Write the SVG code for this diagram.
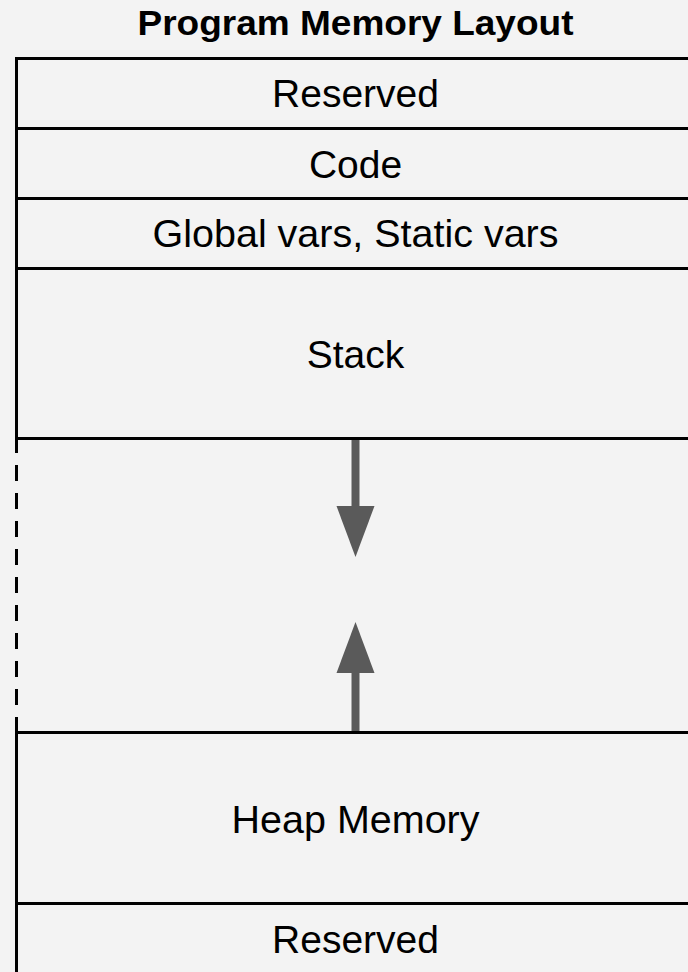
<svg xmlns="http://www.w3.org/2000/svg" width="688" height="972" viewBox="0 0 688 972">
  <style>
    .box { fill: #f3f3f3; stroke: #000000; stroke-width: 3; }
    .dash { fill: none; stroke: #000000; stroke-width: 3; stroke-dasharray: 16 12; }
    .lbl { font-family: "Liberation Sans", Arial, Helvetica, sans-serif; font-size: 39px; fill: #000000; text-anchor: middle; }
    .title { font-family: "Liberation Sans", Arial, Helvetica, sans-serif; font-size: 35px; font-weight: bold; fill: #000000; text-anchor: middle; }
    .shaft { stroke: #5a5a5a; stroke-width: 8; fill: none; }
    .head { fill: #5a5a5a; stroke: none; }
  </style>
  <rect x="0" y="0" width="688" height="972" fill="#f3f3f3"/>
  <g id="title">
    <text class="title" x="355.5" y="34.5" textLength="436" lengthAdjust="spacingAndGlyphs">Program Memory Layout</text>
  </g>
  <g id="free-space">
    <line class="dash" x1="16.5" y1="437" x2="16.5" y2="733"/>
  </g>
  <g id="reserved-top">
    <rect class="box" x="16.5" y="58.5" width="678" height="70"/>
    <text class="lbl" x="355.5" y="107">Reserved</text>
  </g>
  <g id="code">
    <rect class="box" x="16.5" y="128.5" width="678" height="70"/>
    <text class="lbl" x="355.5" y="177.5">Code</text>
  </g>
  <g id="globals">
    <rect class="box" x="16.5" y="198.5" width="678" height="70"/>
    <text class="lbl" x="355.5" y="247" textLength="406" lengthAdjust="spacingAndGlyphs">Global vars, Static vars</text>
  </g>
  <g id="stack">
    <rect class="box" x="16.5" y="268.5" width="678" height="170"/>
    <text class="lbl" x="355.5" y="367.5">Stack</text>
  </g>
  <g id="heap">
    <rect class="box" x="16.5" y="732.5" width="678" height="171"/>
    <text class="lbl" x="355.5" y="832.5" textLength="248" lengthAdjust="spacingAndGlyphs">Heap Memory</text>
  </g>
  <g id="reserved-bottom">
    <rect class="box" x="16.5" y="903.5" width="678" height="80"/>
    <text class="lbl" x="355.5" y="953">Reserved</text>
  </g>
  <g id="connectors">
    <line class="shaft" x1="355.5" y1="440" x2="355.5" y2="507"/>
    <polygon class="head" points="336.5,506 374.5,506 355.5,557"/>
    <line class="shaft" x1="355.5" y1="731" x2="355.5" y2="672"/>
    <polygon class="head" points="336.5,673 374.5,673 355.5,622"/>
  </g>
</svg>
